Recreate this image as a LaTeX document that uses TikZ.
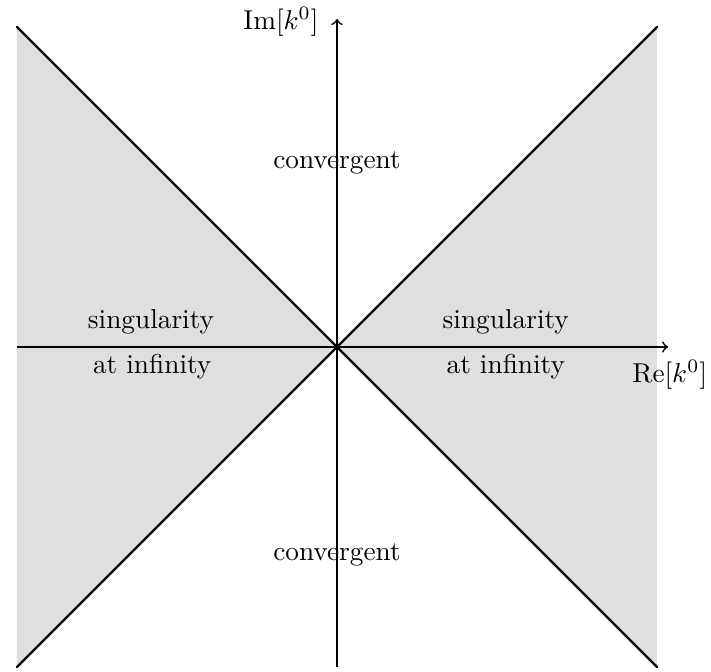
\documentclass[tikz,border=0pt]{standalone}
\usepackage{amsmath,amssymb}
\usetikzlibrary{positioning}

\begin{document}
\begin{tikzpicture}[
  x=1.03cm, y=1.03cm,
  font=\normalsize,
  >=to,
  region/.style={fill=gray!25},
  diag/.style={thick, line cap=round},
  axis/.style={->, semithick},
  lbl/.style={align=center, inner sep=1pt},
]
  \useasboundingbox (-4.2125,-4.0625) rectangle (4.675,4.3375);

  % corners and axis ends
  \coordinate (O)  at (0,0);
  \coordinate (tl) at (-4,4);
  \coordinate (tr) at (4,4);
  \coordinate (bl) at (-4,-4);
  \coordinate (br) at (4,-4);
  \coordinate (xl) at (-4,0);
  \coordinate (xr) at (4.14,0);
  \coordinate (yb) at (0,-4);
  \coordinate (yt) at (0,4.1);

  % shaded wedges
  \fill[region] (tl) -- (O) -- (bl) -- cycle;
  \fill[region] (tr) -- (O) -- (br) -- cycle;

  % axes
  \draw[axis] (xl) -- (xr);
  \draw[axis] (yb) -- (yt);

  % boundaries
  \draw[diag] (tl) -- (br);
  \draw[diag] (bl) -- (tr);

  % labels
  \node[lbl] (im) at (-0.7,4.07) {$\mathrm{Im}[k^0]$};
  \node[lbl] (re) at (4.16,-0.35) {$\mathrm{Re}[k^0]$};
  \node[lbl] (cu) at (0,2.3) {convergent};
  \node[lbl] (cd) at (0,-2.6) {convergent};
  \node[lbl] (sl) at (-2.325,0.31) {singularity};
  \node[lbl] (il) at (-2.31,-0.24) {at infinity};
  \node[lbl] (sr) at (2.11,0.31) {singularity};
  \node[lbl] (ir) at (2.11,-0.24) {at infinity};
\end{tikzpicture}
\end{document}
